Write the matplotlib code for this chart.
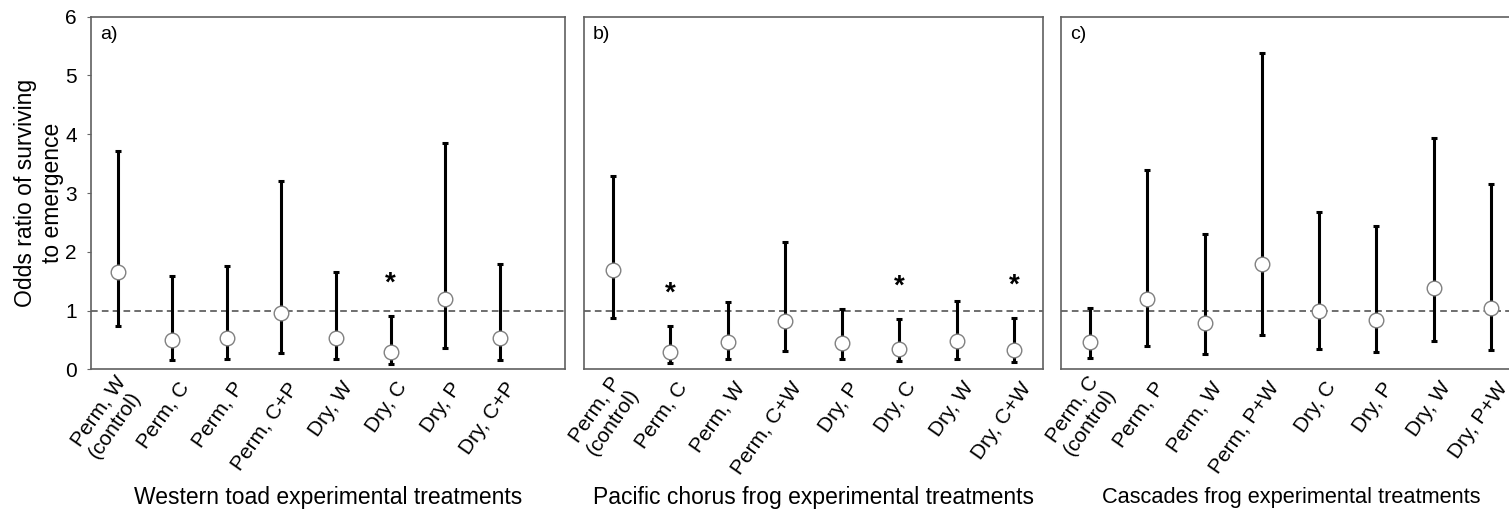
import matplotlib.pyplot as plt
import matplotlib.transforms as mtransforms
import numpy as np

plt.rcParams['font.family'] = ['Liberation Sans', 'DejaVu Sans']

# odds ratios with lower / upper confidence limits, one list per species
toad_labels = ["Perm, W\n(control)", "Perm, C", "Perm, P", "Perm, C+P",
               "Dry, W", "Dry, C", "Dry, P", "Dry, C+P"]
toad_or = [1.65, 0.50, 0.54, 0.95, 0.54, 0.29, 1.20, 0.54]
toad_lo = [0.73, 0.15, 0.17, 0.27, 0.18, 0.085, 0.36, 0.16]
toad_hi = [3.72, 1.58, 1.76, 3.21, 1.65, 0.91, 3.85, 1.80]
toad_sig = [0, 0, 0, 0, 0, 1, 0, 0]

chorus_labels = ["Perm, P\n(control)", "Perm, C", "Perm, W", "Perm, C+W",
                 "Dry, P", "Dry, C", "Dry, W", "Dry, C+W"]
chorus_or = [1.69, 0.30, 0.47, 0.83, 0.44, 0.35, 0.49, 0.33]
chorus_lo = [0.87, 0.11, 0.18, 0.32, 0.18, 0.14, 0.18, 0.125]
chorus_hi = [3.29, 0.73, 1.15, 2.16, 1.02, 0.86, 1.17, 0.88]
chorus_sig = [0, 1, 0, 0, 0, 1, 0, 1]

cascades_labels = ["Perm, C\n(control)", "Perm, P", "Perm, W", "Perm, P+W",
                   "Dry, C", "Dry, P", "Dry, W", "Dry, P+W"]
cascades_or = [0.46, 1.19, 0.79, 1.79, 0.99, 0.84, 1.38, 1.04]
cascades_lo = [0.19, 0.40, 0.26, 0.59, 0.35, 0.29, 0.48, 0.33]
cascades_hi = [1.05, 3.40, 2.30, 5.38, 2.67, 2.44, 3.93, 3.15]
cascades_sig = [0, 0, 0, 0, 0, 0, 0, 0]

fig = plt.figure(figsize=(15.09, 5.14), dpi=100)

panels = [
    ([0.0601, 0.2815, 0.3143, 0.686], (0.5, 9.2), "a)", toad_labels, toad_or, toad_lo, toad_hi, toad_sig),
    ([0.3872, 0.2815, 0.3038, 0.686], (0.5, 8.5), "b)", chorus_labels, chorus_or, chorus_lo, chorus_hi, chorus_sig),
    ([0.7033, 0.2815, 0.3038, 0.686], (0.5, 8.5), "c)", cascades_labels, cascades_or, cascades_lo, cascades_hi, cascades_sig),
]

# nudge the slanted category labels a little to the right
shift = mtransforms.ScaledTranslation(13 / 100, 2 / 100, fig.dpi_scale_trans)

axes = []
for rect, xlim, tag, labels, odds, lo, hi, sig in panels:
    ax = fig.add_axes(rect)
    odds = np.array(odds)
    lo = np.array(lo)
    hi = np.array(hi)
    x = np.arange(1, len(odds) + 1)

    ax.axhline(1, color='#555555', lw=1.2, ls=(0, (4, 2.5)), zorder=1)
    ax.errorbar(x, odds, yerr=[odds - lo, hi - odds], fmt='none', ecolor='black',
                elinewidth=2.2, capsize=2, capthick=2.2, zorder=2)
    ax.plot(x, odds, 'o', mfc='white', mec='#808080', ms=10.5, mew=1, zorder=3)

    for xi, h, s in zip(x, hi, sig):
        if s:
            ax.text(xi, h + 0.55, '*', ha='center', va='center', fontsize=20, fontweight='bold')

    ax.text(0.019, 0.975, tag, transform=ax.transAxes, ha='left', va='top', fontsize=14)

    ax.set_xlim(*xlim)
    ax.set_ylim(0, 6)
    ax.set_xticks(x)
    ax.set_xticklabels(labels, rotation=55, ha='right', va='center',
                       rotation_mode='anchor', fontsize=15, multialignment='left')
    ax.tick_params(axis='x', length=0, pad=12)
    for lab in ax.get_xticklabels():
        lab.set_transform(lab.get_transform() + shift)
    for sp in ax.spines.values():
        sp.set_color('#606060')
        sp.set_linewidth(1.2)
    axes.append(ax)

axes[0].set_yticks(range(0, 7))
axes[0].tick_params(axis='y', labelsize=15, length=3, color='#666666', pad=7)
axes[0].set_ylabel("Odds ratio of surviving\nto emergence", fontsize=16.5, labelpad=1)
for ax in axes[1:]:
    ax.set_yticks([])

fig.text(0.2174, 0.033, "Western toad experimental treatments", ha='center', va='center', fontsize=16.5)
fig.text(0.5388, 0.033, "Pacific chorus frog experimental treatments", ha='center', va='center', fontsize=16.5)
fig.text(0.856, 0.033, "Cascades frog experimental treatments", ha='center', va='center', fontsize=15.7)

fig.savefig('out.png', dpi=100)
